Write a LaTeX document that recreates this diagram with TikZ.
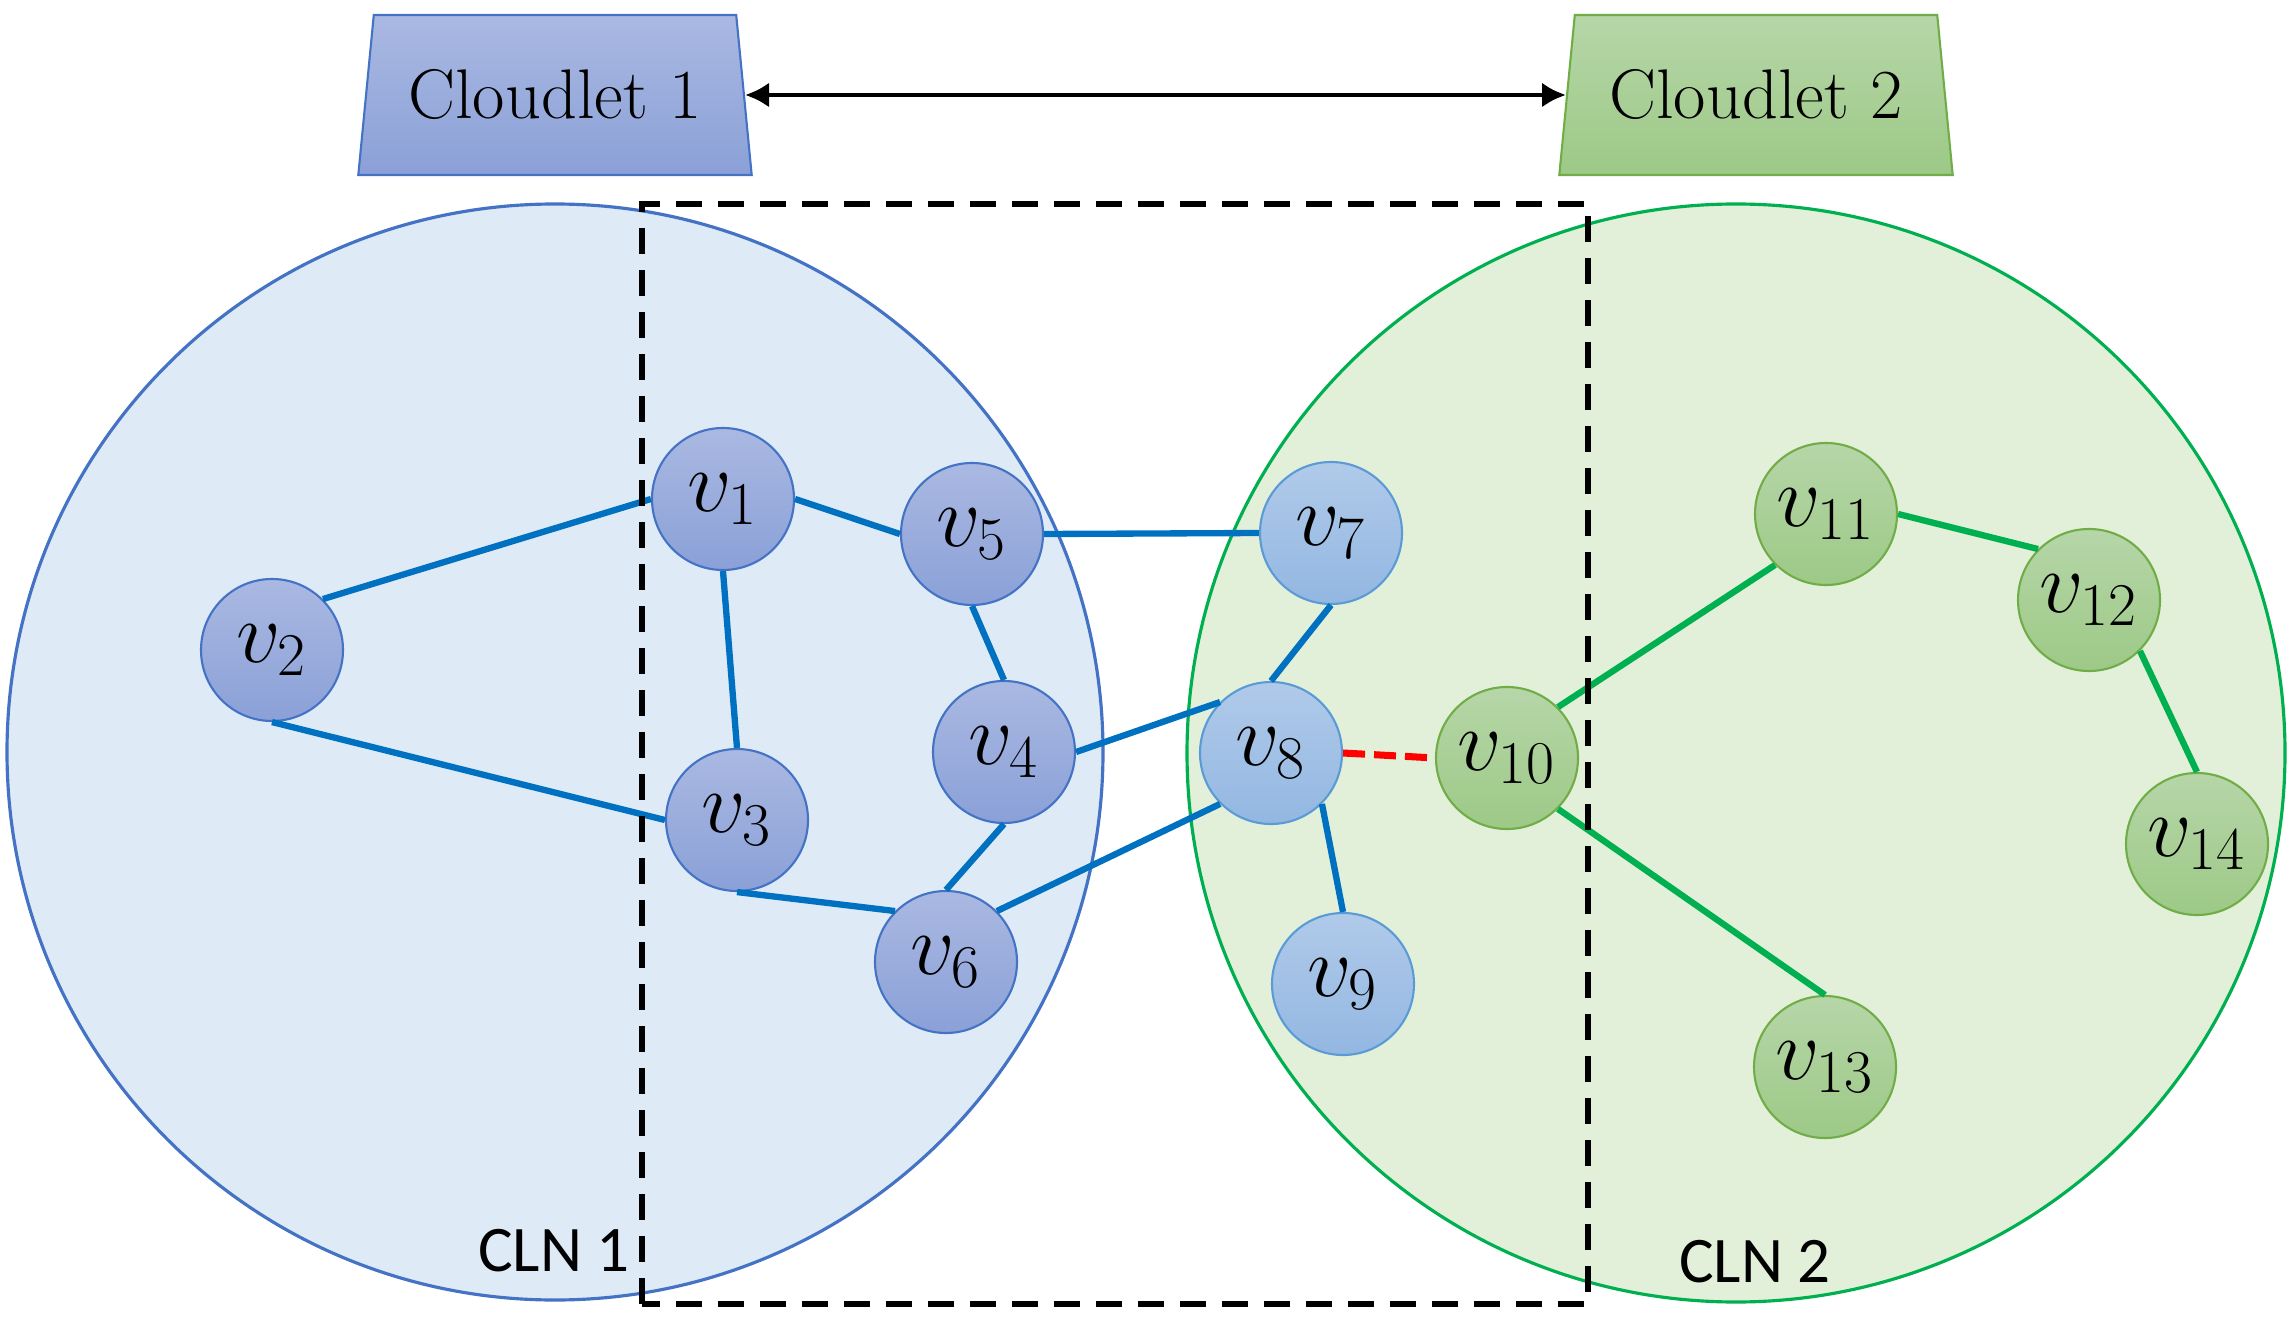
\documentclass[tikz,border=0pt]{standalone}
\usepackage{fontspec}
\newfontfamily\clnfont{Carlito}
\usetikzlibrary{shapes.geometric,arrows.meta}
\DeclareMathSizes{24.88}{24.88}{17.28}{12}

\definecolor{clnblue}{HTML}{DEEBF7}
\definecolor{clnblueline}{HTML}{4472C4}
\definecolor{clngreen}{HTML}{E2F0D9}
\definecolor{clngreenline}{HTML}{00B050}
\definecolor{edgeblue}{HTML}{0070C0}
\definecolor{edgegreen}{HTML}{00B050}
\definecolor{vbluetop}{HTML}{AAB9E2}
\definecolor{vbluebot}{HTML}{8AA0D7}
\definecolor{vskytop}{HTML}{B0CAE9}
\definecolor{vskybot}{HTML}{93B7E2}
\definecolor{vskyline}{HTML}{5B9BD5}
\definecolor{vgreentop}{HTML}{B6D6A8}
\definecolor{vgreenbot}{HTML}{9DC987}
\definecolor{vgreenline}{HTML}{70AD47}

\begin{document}
\begin{tikzpicture}
                [vtx/.style={circle,minimum size=1.42cm,inner sep=0pt,line width=0.6pt,
                    font=\fontsize{24.88}{28}\selectfont},
                 vblue/.style={vtx,draw=clnblueline,top color=vbluetop,bottom color=vbluebot},
                 vsky/.style={vtx,draw=vskyline,top color=vskytop,bottom color=vskybot},
                 vgreen/.style={vtx,draw=vgreenline,top color=vgreentop,bottom color=vgreenbot},
                 cloudlet/.style={trapezium,trapezium angle=76,trapezium stretches=true,
                    minimum width=3.95cm,minimum height=1.6cm,inner sep=0pt,line width=0.6pt,
                    font=\fontsize{20}{22}\selectfont},
                 blueedge/.style={draw=edgeblue,line width=1.8pt},
                 greenedge/.style={draw=edgegreen,line width=1.8pt}]

                \useasboundingbox (0,0) rectangle (22.89,13.24);

                % the two CLN discs
                \fill[clnblue] (5.55,5.72) circle (5.48);
                \draw[clnblueline,line width=0.9pt] (5.55,5.72) circle (5.48);
                \fill[clngreen] (17.36,5.71) circle (5.49);
                \draw[clngreenline,line width=0.9pt] (17.36,5.71) circle (5.49);

                \node[font=\clnfont\fontsize{18.5}{20}\selectfont] (cln1) at (5.54,0.73) {CLN 1};
                \node[font=\clnfont\fontsize{18.5}{20}\selectfont] (cln2) at (17.55,0.62) {CLN 2};

                % cloudlets
                \node[cloudlet,draw=clnblueline,top color=vbluetop,bottom color=vbluebot]
                      (c1) at (5.55,12.29) {Cloudlet 1};
                \node[cloudlet,draw=vgreenline,top color=vgreentop,bottom color=vgreenbot]
                      (c2) at (17.56,12.29) {Cloudlet 2};
                \draw[line width=1.3pt,{Latex[length=2.4mm,width=2.5mm]}-{Latex[length=2.4mm,width=2.5mm]}]
                      (c1.east) -- (c2.west);

                % vertices
                \node[vblue] (v1) at ( 7.23, 8.25) {$v_{1}$};
                \node[vblue] (v2) at ( 2.72, 6.74) {$v_{2}$};
                \node[vblue] (v3) at ( 7.37, 5.04) {$v_{3}$};
                \node[vblue] (v4) at (10.04, 5.72) {$v_{4}$};
                \node[vblue] (v5) at ( 9.72, 7.90) {$v_{5}$};
                \node[vblue] (v6) at ( 9.46, 3.62) {$v_{6}$};
                \node[vsky] (v7) at (13.31, 7.91) {$v_{7}$};
                \node[vsky] (v8) at (12.71, 5.71) {$v_{8}$};
                \node[vsky] (v9) at (13.43, 3.40) {$v_{9}$};
                \node[vgreen] (v10) at (15.07, 5.66) {$v_{10}$};
                \node[vgreen] (v11) at (18.26, 8.10) {$v_{11}$};
                \node[vgreen] (v12) at (20.89, 7.24) {$v_{12}$};
                \node[vgreen] (v13) at (18.25, 2.57) {$v_{13}$};
                \node[vgreen] (v14) at (21.97, 4.80) {$v_{14}$};

                % links
                \draw[blueedge] (v2.north east) -- (v1.west);
                \draw[blueedge] (v2.south) -- (v3.west);
                \draw[blueedge] (v1.east) -- (v5.west);
                \draw[blueedge] (v1.south) -- (v3.north);
                \draw[blueedge] (v5.south) -- (v4.north);
                \draw[blueedge] (v5.east) -- (v7.west);
                \draw[blueedge] (v4.east) -- (v8.north west);
                \draw[blueedge] (v4.south) -- (v6.north);
                \draw[blueedge] (v3.south) -- (v6.north west);
                \draw[blueedge] (v6.north east) -- (v8.south west);
                \draw[blueedge] (v7.south) -- (v8.north);
                \draw[blueedge] (v8.south east) -- (v9.north);
                \draw[red,line width=2pt,dash pattern=on 0.22cm off 0.09cm] (v8.east) -- (v10.west);
                \draw[greenedge] (v10.north east) -- (v11.south west);
                \draw[greenedge] (v10.south east) -- (v13.north);
                \draw[greenedge] (v11.east) -- (v12.north west);
                \draw[greenedge] (v12.south east) -- (v14.north);

                % migration window
                \draw[line width=1.5pt,dash pattern=on 0.26cm off 0.16cm] (6.42,0.20) rectangle (15.88,11.20);
            \end{tikzpicture}
\end{document}
